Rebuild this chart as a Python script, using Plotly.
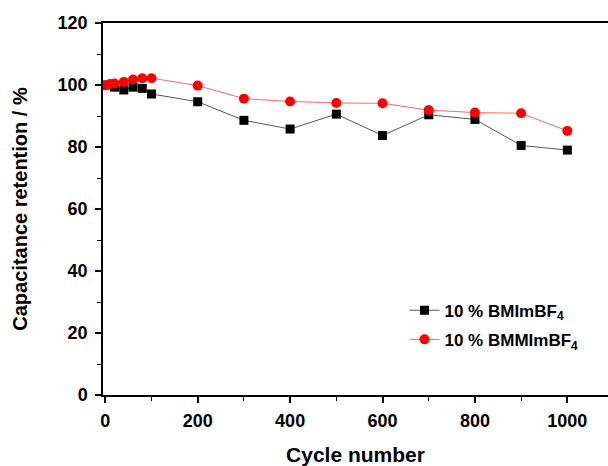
import plotly.graph_objects as go

# Data
x_bmim = [0, 20, 40, 60, 80, 100, 200, 300, 400, 500, 600, 700, 800, 900, 1000]
y_bmim = [100.0, 99.3, 98.4, 99.3, 98.9, 97.1, 94.6, 88.6, 85.8, 90.6, 83.7, 90.4, 88.9, 80.5, 79.0]

x_bmmim = [0, 10, 20, 40, 60, 80, 100, 200, 300, 400, 500, 600, 700, 800, 900, 1000]
y_bmmim = [99.9, 100.3, 100.5, 101.0, 101.8, 102.2, 102.2, 99.8, 95.6, 94.7, 94.2, 94.1, 91.9, 91.1, 90.9, 85.2]

name_bmim = "10 % BMImBF<sub>4</sub>"
name_bmmim = "10 % BMMImBF<sub>4</sub>"

FONT = "Arial, Liberation Sans, sans-serif"

fig = go.Figure()
fig.add_trace(go.Scatter(
    x=x_bmim, y=y_bmim, name=name_bmim, mode="lines+markers",
    line=dict(color="#555555", width=1),
    marker=dict(symbol="square", size=9, color="black"),
    legendgroup="a",
))
fig.add_trace(go.Scatter(
    x=x_bmmim, y=y_bmmim, name=name_bmmim, mode="lines+markers",
    line=dict(color="#ff6666", width=1),
    marker=dict(symbol="circle", size=10, color="#ff0000"),
    legendgroup="b",
))

fig.update_layout(
    width=608, height=466,
    margin=dict(l=103, r=0, t=23, b=71),
    paper_bgcolor="white", plot_bgcolor="white",
    font=dict(family=FONT, color="black"),
    showlegend=True,
    legend=dict(
        x=0.597, y=0.275, xanchor="left", yanchor="top",
        font=dict(family=FONT, size=17, weight="bold", color="black"),
        bgcolor="rgba(0,0,0,0)", tracegroupgap=4,
    ),
)
fig.update_xaxes(
    range=[-5, 1088], showgrid=False, zeroline=False,
    showline=True, linecolor="black", linewidth=1.5, mirror=True,
    ticks="outside", ticklen=6, tickwidth=1.5, tickcolor="black",
    tick0=0, dtick=200, ticklabelstandoff=3,
    minor=dict(ticks="outside", ticklen=4, tickwidth=1.2, tickcolor="black", dtick=100, tick0=0, showgrid=False),
    tickfont=dict(family=FONT, size=18, weight="bold"),
    title=dict(text="Cycle number", font=dict(family=FONT, size=21, weight="bold"), standoff=19),
)
fig.update_yaxes(
    range=[0, 120], showgrid=False, zeroline=False,
    showline=True, linecolor="black", linewidth=1.5, mirror=False,
    ticks="outside", ticklen=6, tickwidth=1.5, tickcolor="black",
    tick0=0, dtick=20, ticklabelstandoff=4,
    minor=dict(ticks="outside", ticklen=4, tickwidth=1.2, tickcolor="black", dtick=10, tick0=0, showgrid=False),
    tickfont=dict(family=FONT, size=18, weight="bold"),
    title=dict(text="Capacitance retention / %", font=dict(family=FONT, size=20, weight="bold"), standoff=25),
)

fig.write_html("out.html")
